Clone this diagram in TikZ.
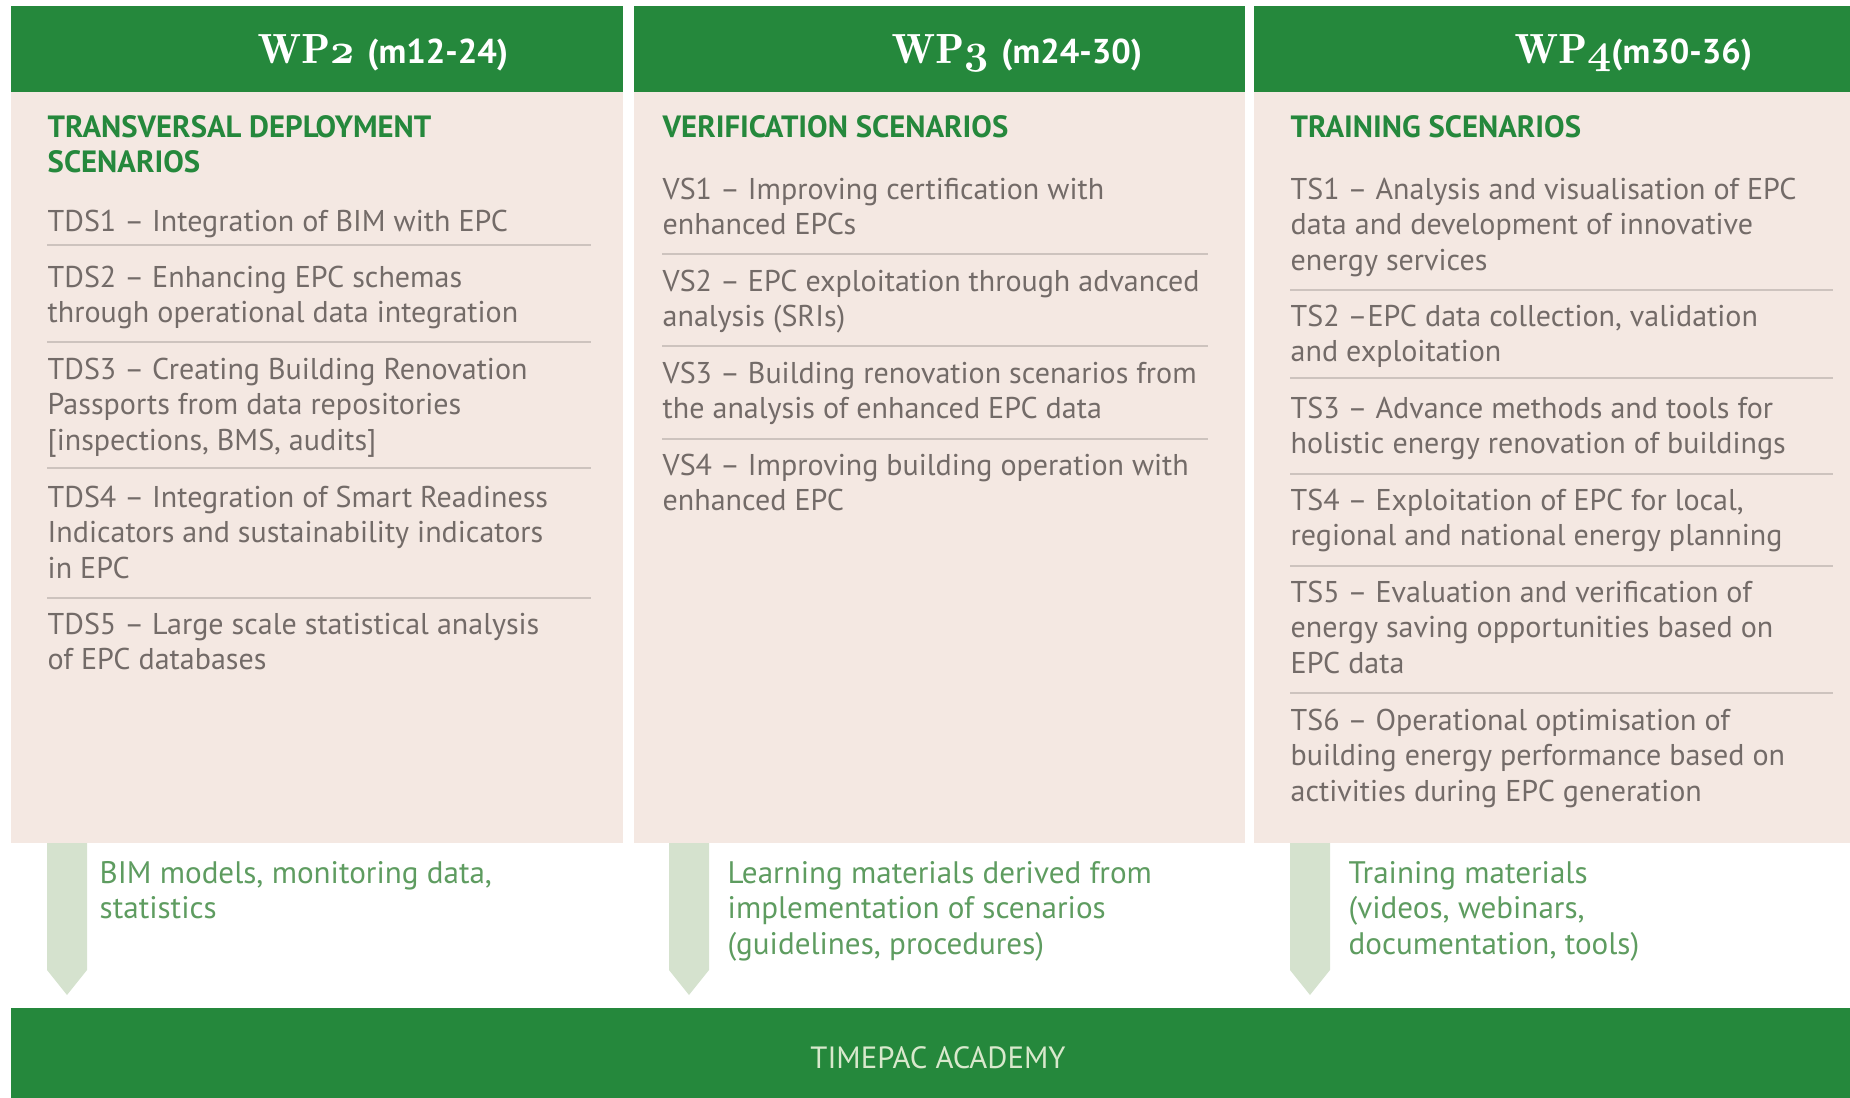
\documentclass[tikz,border=0pt]{standalone}
\usepackage{fontspec}
\setmainfont{PT Sans}
\definecolor{wpgreen}{HTML}{25883C}
\definecolor{panelpink}{HTML}{F4E8E2}
\definecolor{itemgrey}{HTML}{736B68}
\definecolor{outgreen}{HTML}{5E9C60}
\definecolor{arrowgreen}{HTML}{D5E2CE}
\definecolor{rulegrey}{HTML}{CDC3BE}
\definecolor{academy}{HTML}{D8E8CC}
\newcommand{\wpnum}[1]{{\usefont{OML}{cmm}{b}{it}#1}}
\newcommand{\wplabel}[2]{{\fontsize{11.6}{13}\usefont{OT1}{cmr}{b}{n}WP\wpnum{#1}}#2}
\tikzset{
  wphead/.style={anchor=base west, inner sep=0pt, text=white, font=\bfseries\fontsize{9.8}{12}\selectfont},
  scentitle/.style={anchor=base west, align=left, inner sep=0pt, text=wpgreen, font=\bfseries\fontsize{8.75}{10.1}\selectfont},
  item/.style={anchor=base west, align=left, inner sep=0pt, text=itemgrey, font=\fontsize{8.55}{10.1}\selectfont},
  output/.style={anchor=base west, align=left, inner sep=0pt, text=outgreen, font=\fontsize{8.85}{10.1}\selectfont},
  sep/.style={rulegrey, line width=0.15mm},
  flow/.style={fill=arrowgreen, draw=none}
}
\begin{document}
\begin{tikzpicture}[x=0.1mm, y=-0.1mm]
\useasboundingbox (0,0) rectangle (1850,1098);
% columns
\foreach \l/\r in {11/623, 634/1245, 1254/1850}{
  \fill[wpgreen] (\l,6) rectangle (\r,92);
  \fill[panelpink] (\l,92) rectangle (\r,843);
}
\node[wphead] (wp2) at (257,63) {\wplabel{2}{\hspace{1.3mm}(m12-24)}};
\node[wphead] (wp3) at (891,63) {\wplabel{3}{\hspace{1.3mm}(m24-30)}};
\node[wphead] (wp4) at (1514,63) {\wplabel{4}{(m30-36)}};
% WP2 (nodes sit on their last baseline)
\node[scentitle] (tds) at (47,172.5) {TRANSVERSAL DEPLOYMENT\\SCENARIOS};
\node[item] (tds1) at (47,231) {TDS1 – Integration of BIM with EPC};
\node[item] (tds2) at (47,322.5) {TDS2 – Enhancing EPC schemas\\through operational data integration};
\node[item] (tds3) at (47,450) {TDS3 – Creating Building Renovation\\Passports from data repositories\\{[}inspections, BMS, audits{]}};
\node[item] (tds4) at (47,578) {TDS4 – Integration of Smart Readiness\\Indicators and sustainability indicators\\in EPC};
\node[item] (tds5) at (47,669.5) {TDS5 – Large scale statistical analysis\\of EPC databases};
\foreach \y in {245,342,468,598} \draw[sep] (47,\y) -- (591,\y);
% WP3
\node[scentitle] (vs) at (662,137) {VERIFICATION SCENARIOS};
\node[item] (vs1) at (662,234.5) {VS1 – Improving certification with\\enhanced EPCs};
\node[item] (vs2) at (662,326.5) {VS2 – EPC exploitation through advanced\\analysis (SRIs)};
\node[item] (vs3) at (662,418.5) {VS3 – Building renovation scenarios from\\the analysis of enhanced EPC data};
\node[item] (vs4) at (662,510.5) {VS4 – Improving building operation with\\enhanced EPC};
\foreach \y in {254,346,439} \draw[sep] (662,\y) -- (1208,\y);
% WP4
\node[scentitle] (ts) at (1290,137) {TRAINING SCENARIOS};
\node[item] (ts1) at (1290,270) {TS1 – Analysis and visualisation of EPC\\data and development of innovative\\energy services};
\node[item] (ts2) at (1290,361.5) {TS2 –EPC data collection, validation\\and exploitation};
\node[item] (ts3) at (1290,453.5) {TS3 – Advance methods and tools for\\holistic energy renovation of buildings};
\node[item] (ts4) at (1290,545.5) {TS4 – Exploitation of EPC for local,\\regional and national energy planning};
\node[item] (ts5) at (1290,673) {TS5 – Evaluation and verification of\\energy saving opportunities based on\\EPC data};
\node[item] (ts6) at (1290,801) {TS6 – Operational optimisation of\\building energy performance based on\\activities during EPC generation};
\foreach \y in {290,378,474,566,693} \draw[sep] (1290,\y) -- (1833,\y);
% outputs
\foreach \x in {47,669,1290}
  \fill[flow] (\x,843) -- (\x+40,843) -- (\x+40,970) -- (\x+20,995) -- (\x,970) -- cycle;
\node[output] (out2) at (99,918.5) {BIM models, monitoring data,\\statistics};
\node[output] (out3) at (727,954) {Learning materials derived from\\implementation of scenarios\\(guidelines, procedures)};
\node[output] (out4) at (1348,954) {Training materials\\(videos, webinars,\\documentation, tools)};
% academy
\fill[wpgreen] (11,1008) rectangle (1850,1098);
\node[text=academy, font=\fontsize{8.75}{10}\selectfont] (academy) at (938,1058) {TIMEPAC ACADEMY};
\end{tikzpicture}
\end{document}
